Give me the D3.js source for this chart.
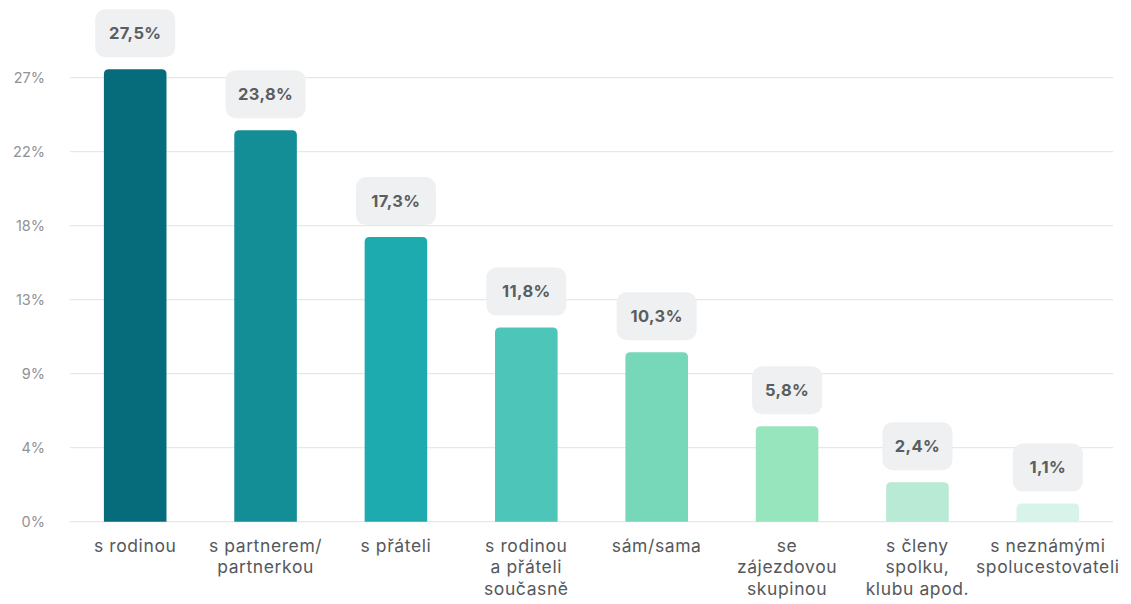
<!DOCTYPE html>
<html>
<head>
<meta charset="utf-8">
<script src="https://cdn.jsdelivr.net/npm/d3@7"></script>
<style>
  html, body { margin: 0; padding: 0; background: #ffffff; }
  svg { display: block; font-family: Inter, "Open Sans", Roboto, sans-serif; }
</style>
</head>
<body>
<svg id="chart" width="1131" height="604"></svg>
<script>
const categories = [
  ["s rodinou"],
  ["s partnerem/", "partnerkou"],
  ["s přáteli"],
  ["s rodinou", "a přáteli", "současně"],
  ["sám/sama"],
  ["se", "zájezdovou", "skupinou"],
  ["s členy", "spolku,", "klubu apod."],
  ["s neznámými", "spolucestovateli"]
];
const values = [27.5, 23.8, 17.3, 11.8, 10.3, 5.8, 2.4, 1.1];
const valueLabels = ["27,5%", "23,8%", "17,3%", "11,8%", "10,3%", "5,8%", "2,4%", "1,1%"];
const colors = ["#066b7a", "#138d96", "#1eabaf", "#4ec5b9", "#76d7b9", "#96e5bd", "#b8ead5", "#d8f3ea"];
const tickValues = [0, 4.5, 9, 13.5, 18, 22.5, 27];
const tickLabels = ["0%", "4%", "9%", "13%", "18%", "22%", "27%"];

const svg = d3.select("#chart");
const plotLeft = 70, plotRight = 1113, plotBottom = 521.7, plotTop = 69.3;

const x = d3.scaleBand().domain(d3.range(values.length)).range([plotLeft, plotRight]).paddingInner(0.52).paddingOuter(0.26);
const y = d3.scaleLinear().domain([0, 27.5]).range([plotBottom, plotTop]);

// grid lines
svg.append("g").selectAll("line").data(tickValues).join("line")
  .attr("x1", plotLeft).attr("x2", plotRight)
  .attr("y1", d => y(d)).attr("y2", d => y(d))
  .attr("stroke", "#e6e8eb").attr("stroke-width", 1.2);

// y tick labels
svg.append("g").selectAll("text").data(tickValues).join("text")
  .attr("x", 45).attr("y", d => y(d)).attr("dy", "0.35em")
  .attr("text-anchor", "end")
  .attr("fill", "#8f9296").attr("font-size", 14.5)
  .text((d, i) => tickLabels[i]);

// bars with rounded top corners
const r = 5;
function barPath(x0, w, y0, y1) {
  const rr = Math.min(r, (y1 - y0) / 2, w / 2);
  return `M${x0},${y1} L${x0},${y0 + rr} Q${x0},${y0} ${x0 + rr},${y0} L${x0 + w - rr},${y0} Q${x0 + w},${y0} ${x0 + w},${y0 + rr} L${x0 + w},${y1} Z`;
}
svg.append("g").selectAll("path").data(values).join("path")
  .attr("d", (d, i) => barPath(x(i), x.bandwidth(), y(d), y(0)))
  .attr("fill", (d, i) => colors[i]);

// value label boxes
const lab = svg.append("g").selectAll("g").data(values).join("g")
  .attr("transform", (d, i) => `translate(${x(i) + x.bandwidth() / 2},${y(d) - 36})`);
lab.append("rect")
  .attr("x", (d, i) => valueLabels[i].length === 5 ? -40 : -35)
  .attr("width", (d, i) => valueLabels[i].length === 5 ? 80 : 70)
  .attr("y", -24).attr("height", 48).attr("rx", 10)
  .attr("fill", "#eff0f1");
lab.append("text")
  .attr("text-anchor", "middle").attr("dy", "0.35em")
  .attr("font-size", 16.5).attr("font-weight", 700).attr("fill", "#5a5d61")
  .attr("letter-spacing", 0.4)
  .text((d, i) => valueLabels[i]);

// x labels
const xl = svg.append("g").selectAll("text").data(categories).join("text")
  .attr("x", (d, i) => x(i) + x.bandwidth() / 2)
  .attr("y", 551.5)
  .attr("text-anchor", "middle")
  .attr("fill", "#55585c").attr("font-size", 17.5)
  .attr("letter-spacing", 0.6);
xl.selectAll("tspan").data(d => d).join("tspan")
  .attr("x", function () { return this.parentNode.getAttribute("x"); })
  .attr("dy", (d, j) => j === 0 ? 0 : 21.5)
  .text(d => d);
</script>
</body>
</html>
